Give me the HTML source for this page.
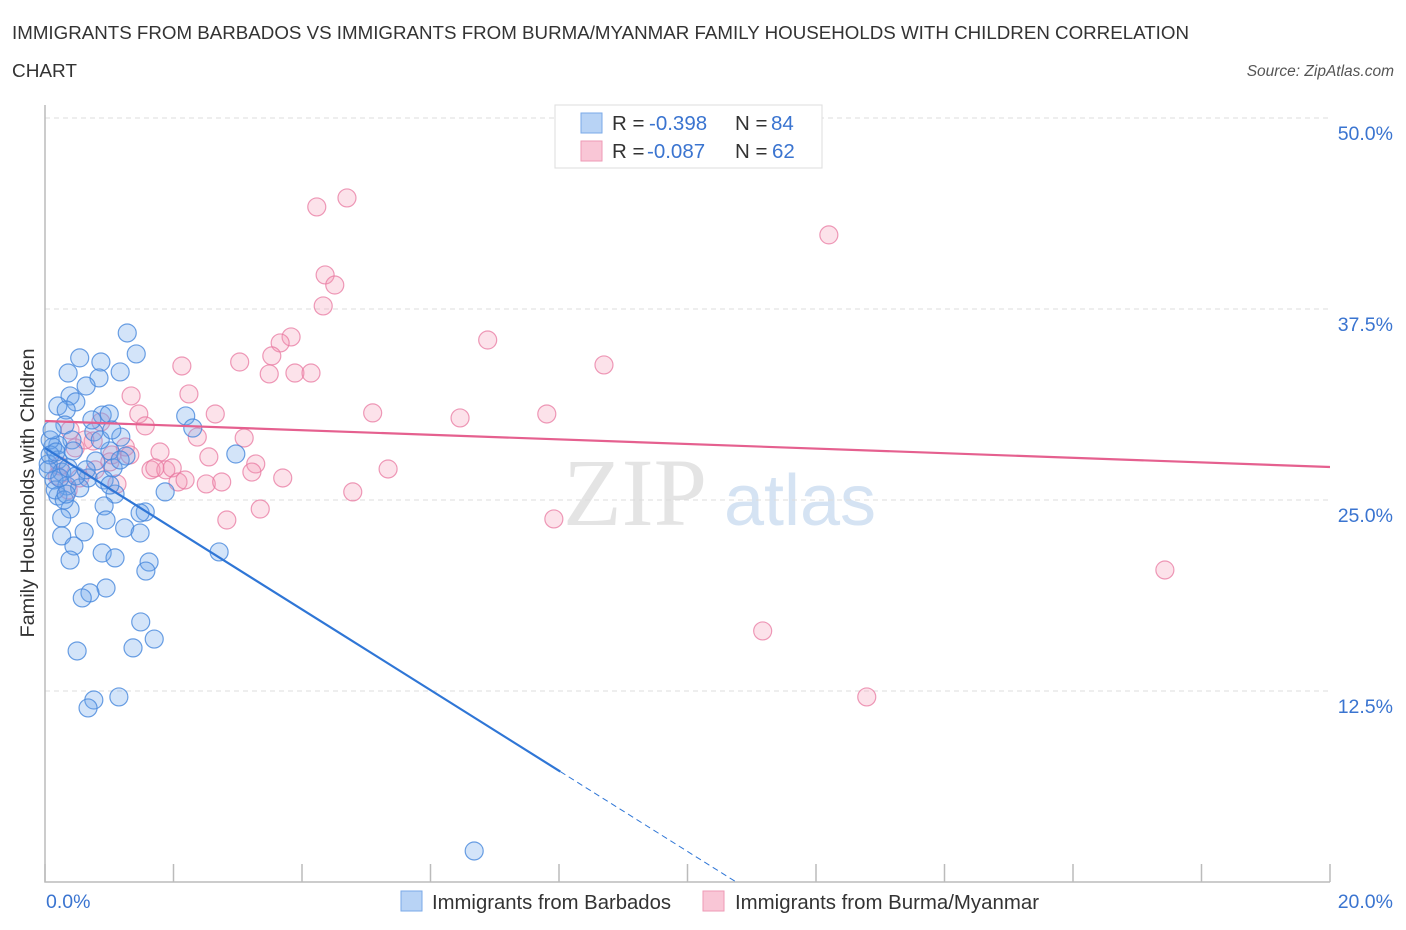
<!DOCTYPE html>
<html><head><meta charset="utf-8"><style>
body{margin:0;background:#fff;font-family:"Liberation Sans",sans-serif;}
svg{display:block}
</style></head><body>
<svg id="chart" width="1406" height="930" xmlns="http://www.w3.org/2000/svg">
<text x="12" y="39" font-size="18.5" fill="#333" textLength="1177" lengthAdjust="spacingAndGlyphs">IMMIGRANTS FROM BARBADOS VS IMMIGRANTS FROM BURMA/MYANMAR FAMILY HOUSEHOLDS WITH CHILDREN CORRELATION</text>
<text x="12" y="77" font-size="18.5" fill="#333" textLength="65" lengthAdjust="spacingAndGlyphs">CHART</text>
<text x="1394" y="76" font-size="15.5" fill="#555" font-style="italic" text-anchor="end">Source: ZipAtlas.com</text>
<text x="635" y="525" font-size="96" fill="#e4e4e4" font-family="Liberation Serif,serif" text-anchor="middle">ZIP</text>
<text x="800" y="525" font-size="72" fill="#d5e3f3" text-anchor="middle">atlas</text>
<text transform="translate(34,493) rotate(-90)" font-size="19" fill="#333" text-anchor="middle" textLength="289" lengthAdjust="spacingAndGlyphs">Family Households with Children</text>
<g id="grid"></g><g id="axes"></g><g id="pinkpts"></g><g id="bluepts"></g><g id="lines"></g>
<g>
<rect x="555" y="105" width="267" height="63" fill="#fff" stroke="#ddd"/>
<rect x="581" y="113" width="21" height="20" fill="#b8d3f5" stroke="#7aaae8"/>
<rect x="581" y="141" width="21" height="20" fill="#f9c6d6" stroke="#ee9ab5"/>
<text y="130" font-size="20.5" fill="#333"><tspan x="612">R =</tspan><tspan x="649" fill="#3a74d0">-0.398</tspan><tspan x="735">N =</tspan><tspan x="771" fill="#3a74d0">84</tspan></text>
<text y="158" font-size="20.5" fill="#333"><tspan x="612">R =</tspan><tspan x="647" fill="#3a74d0">-0.087</tspan><tspan x="735">N =</tspan><tspan x="772" fill="#3a74d0">62</tspan></text>
</g>
<g>
<rect x="401" y="891" width="21" height="20" fill="#b8d3f5" stroke="#7aaae8"/>
<text x="432" y="909" font-size="20" fill="#333" textLength="239" lengthAdjust="spacingAndGlyphs">Immigrants from Barbados</text>
<rect x="703" y="891" width="21" height="20" fill="#f9c6d6" stroke="#ee9ab5"/>
<text x="735" y="909" font-size="20" fill="#333" textLength="304" lengthAdjust="spacingAndGlyphs">Immigrants from Burma/Myanmar</text>
</g>
</svg>
<script>
const yTicks=[12.5,25,37.5,50];
const yTickLabels=["12.5%","25.0%","37.5%","50.0%"];
const xTicks=[0,2,4,6,8,10,12,14,16,18,20];
const xEndLabels=["0.0%","20.0%"];
const blueX=[1.28,1.42,0.54,0.87,1.17,0.36,0.84,0.64,0.39,0.48,0.20,0.33,0.89,1.00,2.19,0.31,2.30,0.76,1.18,0.42,0.20,0.44,1.01,1.26,2.97,0.12,0.20,0.79,1.06,0.05,0.26,0.67,0.92,0.14,0.34,0.54,1.09,1.87,0.20,0.92,0.39,0.26,0.95,1.56,1.48,1.24,0.61,0.26,1.48,0.45,0.89,2.71,1.09,0.39,1.62,1.57,0.95,0.70,0.58,1.49,1.70,1.37,0.50,0.76,1.15,0.67,6.68,0.08,0.08,0.05,0.16,0.23,0.11,0.36,0.48,1.01,0.30,0.64,0.86,0.73,1.04,1.17,0.17,0.33];
const blueY=[35.93,34.56,34.30,34.03,33.38,33.31,32.99,32.46,31.81,31.42,31.15,30.89,30.56,30.63,30.50,29.91,29.71,29.45,29.12,28.93,28.60,28.21,28.21,27.88,28.01,28.47,27.62,27.55,27.10,27.36,26.83,26.44,26.31,26.31,25.92,25.79,25.39,25.53,25.26,24.61,24.41,23.82,23.69,24.22,24.15,23.17,22.91,22.65,22.84,21.99,21.53,21.60,21.21,21.07,20.94,20.35,19.24,18.92,18.59,17.02,15.90,15.32,15.12,11.91,12.11,11.39,2.03,28.93,27.95,26.97,25.66,26.44,29.58,27.10,26.57,25.98,25.00,26.97,28.93,30.24,29.58,27.62,28.14,25.39];
const pinkX=[4.70,4.23,12.20,4.36,4.51,4.33,3.83,6.89,3.66,3.53,3.03,2.13,8.70,3.49,3.89,4.14,2.24,1.34,5.10,2.65,6.46,7.81,1.46,1.56,0.87,2.37,3.10,0.75,1.25,1.79,2.55,3.28,1.65,1.88,1.98,5.34,3.22,3.70,2.07,2.51,2.75,1.12,0.36,4.79,3.35,2.83,7.92,17.43,11.17,12.79,1.04,0.47,0.23,0.62,0.39,1.01,1.32,1.71,0.19,0.54,0.78,2.18];
const pinkY=[44.77,44.18,42.35,39.73,39.07,37.70,35.67,35.47,35.28,34.43,34.03,33.77,33.84,33.25,33.31,33.31,31.94,31.81,30.70,30.63,30.37,30.63,30.63,29.85,30.11,29.12,29.06,28.86,28.47,28.14,27.82,27.36,26.97,26.97,27.10,27.03,26.83,26.44,26.18,26.05,26.18,26.05,25.66,25.53,24.41,23.69,23.76,20.42,16.43,12.11,27.95,28.41,27.23,28.93,29.58,27.49,27.95,27.10,26.57,26.44,26.97,26.31];
const blueTrend=[28.4,-2.64];   // intercept, slope
const pinkTrend=[30.17,27.16];  // y at x=0, y at x=20
const NS="http://www.w3.org/2000/svg";
const X=v=>45+v*64.25, Y=v=>882-v*15.28;
function mk(t,a,p){const e=document.createElementNS(NS,t);for(const k in a)e.setAttribute(k,a[k]);p.appendChild(e);return e;}
const grid=document.getElementById('grid'),axes=document.getElementById('axes');
yTicks.forEach((t,i)=>{
 const l=mk('line',{x1:45,x2:1330,y1:Y(t),y2:Y(t),stroke:'#ddd','stroke-dasharray':'5,4'},grid);
 
 
 const tx=mk('text',{x:1393,y:Y(t)+22,'font-size':19.5,fill:'#3a74d0','text-anchor':'end'},grid);
 tx.textContent=yTickLabels[i];
 
 
});
const ax=mk('path',{d:'M45,105 V882 H1330',fill:'none',stroke:'#bbb','stroke-width':1.5},axes);


xTicks.forEach(t=>{
 const l=mk('line',{x1:X(t),x2:X(t),y1:864,y2:882,stroke:'#bbb','stroke-width':1.5},axes);
 
 
});
[[0,'start',46],[20,'end',1393]].forEach((d,i)=>{
 const tx=mk('text',{x:d[2],y:908,'font-size':19.5,fill:'#3a74d0','text-anchor':d[1]},axes);
 tx.textContent=xEndLabels[i];
 
 
});
const pg=document.getElementById('pinkpts'),bg=document.getElementById('bluepts');
pinkX.forEach((x,i)=>{
 const c=mk('circle',{cx:X(x),cy:Y(pinkY[i]),r:9,fill:'rgba(244,150,180,0.28)',stroke:'rgba(232,120,160,0.75)','stroke-width':1.2},pg);
 
 
});
blueX.forEach((x,i)=>{
 const c=mk('circle',{cx:X(x),cy:Y(blueY[i]),r:9,fill:'rgba(110,165,235,0.3)',stroke:'rgba(70,135,220,0.8)','stroke-width':1.2},bg);
 
 
});
const lg=document.getElementById('lines');
const pl=mk('line',{x1:X(0),y1:Y(pinkTrend[0]),x2:X(20),y2:Y(pinkTrend[1]),stroke:'#e5608f','stroke-width':2.2},lg);


const bx1=8.02, bx0=-blueTrend[0]/blueTrend[1];
const bl=mk('line',{x1:X(0),y1:Y(blueTrend[0]),x2:X(bx1),y2:Y(blueTrend[0]+blueTrend[1]*bx1),stroke:'#2f76d6','stroke-width':2.2},lg);


const bd=mk('line',{x1:X(bx1),y1:Y(blueTrend[0]+blueTrend[1]*bx1),x2:X(bx0),y2:Y(0),stroke:'#2f76d6','stroke-width':1,'stroke-dasharray':'6,4'},lg);


</script>
</body></html>
